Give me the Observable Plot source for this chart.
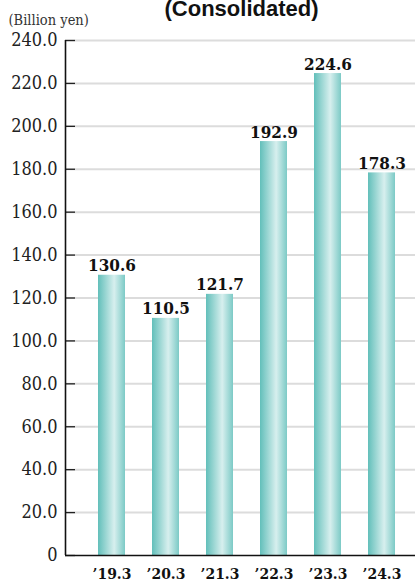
<!DOCTYPE html>
<html>
<head>
<meta charset="utf-8">
<script src="https://cdn.jsdelivr.net/npm/d3@7"></script>
<script src="https://cdn.jsdelivr.net/npm/@observablehq/plot@0.6"></script>
<style>
html,body{margin:0;padding:0;}
#chart svg{display:block;background:linear-gradient(to bottom,#f4f5f6 0%,#e9ebed 45%,#dcdfe2 100%);}
#chart svg text{font-family:'DejaVu Serif Condensed','DejaVu Serif',serif !important;}
#chart svg g.title-mark text{font-family:'Liberation Sans',Arial,sans-serif !important;}
</style>
</head>
<body>
<div id="chart"></div>
<script>
const years = ["’19.3","’20.3","’21.3","’22.3","’23.3","’24.3"];
const values = [130.6,110.5,121.7,192.9,224.6,178.3];
const yTicks = [0,20,40,60,80,100,120,140,160,180,200,220,240];
const title = "(Consolidated)";
const unit = "(Billion yen)";

const data = years.map((y,i)=>({year:y,value:values[i]}));
const serif = "'DejaVu Serif Condensed','DejaVu Serif',serif";

const plot = Plot.plot({
  width: 415,
  height: 582,
  marginTop: 40,
  marginBottom: 27,
  marginLeft: 65,
  marginRight: 0,
  style: {fontFamily: serif, background: "transparent", overflow: "visible"},
  x: {type: "band", domain: years, range: [84, 408], paddingInner: 0.5, paddingOuter: 0.25, axis: null},
  y: {domain: [0, 240], axis: null, label: null},
  marks: [
    Plot.frame({fill: "white", stroke: null, insetTop: -7}),
    Plot.gridY(yTicks.filter(d=>d>0), {stroke: "#dcdcdc", strokeWidth: 2, strokeOpacity: 1}),
    Plot.barY(data, {x: "year", y: "value", fill: "url(#barGrad)"}),
    Plot.ruleY(yTicks, {insetRight: 340, stroke: "#222", strokeWidth: 1.3}),
    Plot.axisY(yTicks, {tickSize: 0, tickPadding: 8, label: null, fontSize: 18, fill: "#222", fontVariant: "normal",
      tickFormat: d => d === 0 ? "0" : d.toFixed(1)}),
    Plot.ruleX([0], {x: null, dx: -175, stroke: "#111", strokeWidth: 1.6}),
    Plot.ruleY([0], {stroke: "#111", strokeWidth: 1.6}),
    Plot.text(data, {x: "year", y: "value", text: d => d.value.toFixed(1), lineAnchor: "bottom", dy: -4,
      fontSize: 17, fontWeight: "bold", fill: "#111"}),
    Plot.text(data, {x: "year", text: "year", frameAnchor: "bottom", lineAnchor: "bottom", dy: 23,
      fontSize: 15.5, fontWeight: "bold", fill: "#111"}),
    Plot.text([unit], {frameAnchor: "top-left", dx: -57, dy: -20, textAnchor: "start", lineAnchor: "middle",
      fontSize: 14.5, fill: "#333"}),
    Plot.text([title], {frameAnchor: "top-left", dx: 176, dy: -25, textAnchor: "middle", lineAnchor: "bottom",
      fontSize: 22, fontWeight: "bold", fill: "#111", className: "title-mark"})
  ]
});

const ns = "http://www.w3.org/2000/svg";
const defs = document.createElementNS(ns, "defs");
defs.innerHTML = `<linearGradient id="barGrad" x1="0" x2="1" y1="0" y2="0">
  <stop offset="0" stop-color="#62bfba"/>
  <stop offset="0.6" stop-color="#d7efee"/>
  <stop offset="1" stop-color="#7ccac6"/>
</linearGradient>`;
plot.insertBefore(defs, plot.firstChild);
document.getElementById("chart").appendChild(plot);
</script>
</body>
</html>
